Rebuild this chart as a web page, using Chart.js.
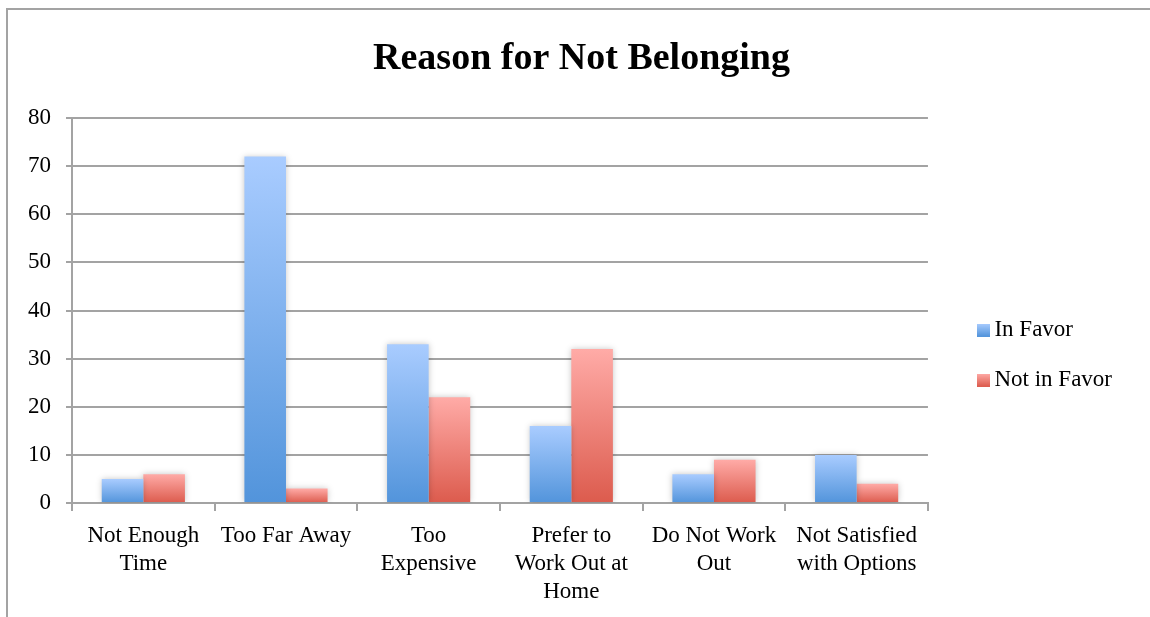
<!DOCTYPE html>
<html>
<head>
<meta charset="utf-8">
<script src="https://cdn.jsdelivr.net/npm/chart.js@4/dist/chart.umd.min.js"></script>
<style>
  html,body{margin:0;padding:0;background:#fff;}
  #wrap{position:relative;width:1150px;height:617px;overflow:hidden;}
  #frame{position:absolute;left:6px;top:8px;width:1200px;height:700px;border-left:2px solid #a3a3a3;border-top:2px solid #a3a3a3;}
  canvas{position:absolute;left:0;top:0;}
</style>
</head>
<body>
<div id="wrap">
  <div id="frame"></div>
  <canvas id="c" width="1150" height="617"></canvas>
</div>
<script>
const categories = [
  ["Not Enough", "Time"],
  "Too Far Away",
  ["Too", "Expensive"],
  ["Prefer to", "Work Out at", "Home"],
  ["Do Not Work", "Out"],
  ["Not Satisfied", "with Options"]
];
const seriesNames = ["In Favor", "Not in Favor"];
const inFavor = [5, 72, 33, 16, 6, 10];
const notInFavor = [6, 3, 22, 32, 9, 4];
const yTicks = [0, 10, 20, 30, 40, 50, 60, 70, 80];

const FONT = "'Liberation Serif', serif";
const blueTop = '#a9ccff', blueBot = '#5294db';
const redTop = '#ffaba7', redBot = '#dc5b4d';

function barGradient(c1, c2) {
  return function (ctx) {
    const chart = ctx.chart;
    if (!chart.chartArea || ctx.type !== 'data') return c2;
    const y = chart.scales.y;
    const top = y.getPixelForValue(ctx.raw);
    const bot = y.getPixelForValue(0);
    if (!(bot - top > 0)) return c2;
    const g = chart.ctx.createLinearGradient(0, top, 0, bot);
    g.addColorStop(0, c1);
    g.addColorStop(1, c2);
    return g;
  };
}
// legend swatch: wide transparent canvas with the 13px square placed to the right
function swatch(c1, c2) {
  const cv = document.createElement('canvas');
  cv.width = 60; cv.height = 13;
  const x = cv.getContext('2d');
  const g = x.createLinearGradient(0, 0, 0, 13);
  g.addColorStop(0, c1); g.addColorStop(1, c2);
  x.fillStyle = g; x.fillRect(38, 0, 13, 13);
  return cv;
}

const shadowPlugin = {
  id: 'barShadow',
  beforeDatasetsDraw(chart) {
    const c = chart.ctx;
    c.save();
    c.shadowColor = 'rgba(0,0,0,0.22)';
    c.shadowBlur = 6;
    c.shadowOffsetX = 0;
    c.shadowOffsetY = 0;
  },
  afterDatasetsDraw(chart) { chart.ctx.restore(); }
};
// shift the title's box so it is centred where the original puts it
const titleShift = {
  id: 'titleShift',
  afterLayout(chart) { if (chart.titleBlock) chart.titleBlock.left += 41; }
};

const PAD_R = 28;

new Chart(document.getElementById('c'), {
  type: 'bar',
  data: {
    labels: categories,
    datasets: [
      { label: seriesNames[0], data: inFavor, backgroundColor: barGradient(blueTop, blueBot),
        pointStyle: swatch(blueTop, blueBot), borderWidth: 0,
        categoryPercentage: 0.583, barPercentage: 1.0 },
      { label: seriesNames[1], data: notInFavor, backgroundColor: barGradient(redTop, redBot),
        pointStyle: swatch(redTop, redBot), borderWidth: 0,
        categoryPercentage: 0.583, barPercentage: 1.0 }
    ]
  },
  options: {
    responsive: false,
    animation: false,
    devicePixelRatio: 1,
    layout: { padding: { left: 0, right: PAD_R, top: 0, bottom: 0 } },
    plugins: {
      title: {
        display: true,
        text: 'Reason for Not Belonging',
        color: '#000',
        font: { family: FONT, size: 38, weight: 'bold', lineHeight: 1.2 },
        padding: { top: 36, bottom: 36.4 }
      },
      legend: {
        position: 'right',
        title: { display: true, text: ' ', font: { size: 10, lineHeight: 1.2 }, padding: { top: 81, bottom: 0 } },
        labels: {
          usePointStyle: true,
          pointStyleWidth: 28,
          color: '#000',
          font: { family: FONT, size: 23 },
          padding: 27,
          boxHeight: 13
        }
      },
      tooltip: { enabled: false }
    },
    scales: {
      x: {
        offset: true,
        grid: { display: true, drawOnChartArea: false, drawTicks: true, tickLength: 8, color: '#a3a3a3', lineWidth: 2, offset: true },
        border: { display: true, color: '#a3a3a3', width: 2 },
        ticks: { color: '#000', font: { family: FONT, size: 23, lineHeight: 1.2 }, padding: 11.5, maxRotation: 0, autoSkip: false },
        afterFit(s) { s.height = 114; }
      },
      y: {
        min: 0, max: 80,
        afterBuildTicks(s) { s.ticks = yTicks.map(v => ({ value: v })); },
        grid: { color: '#a3a3a3', lineWidth: 2, tickLength: 6, drawTicks: true },
        border: { display: true, color: '#a3a3a3', width: 2 },
        ticks: { color: '#000', font: { family: FONT, size: 23 }, padding: 15 },
        afterFit(s) { s.width = 72; }
      }
    }
  },
  plugins: [shadowPlugin, titleShift]
});
</script>
</body>
</html>
